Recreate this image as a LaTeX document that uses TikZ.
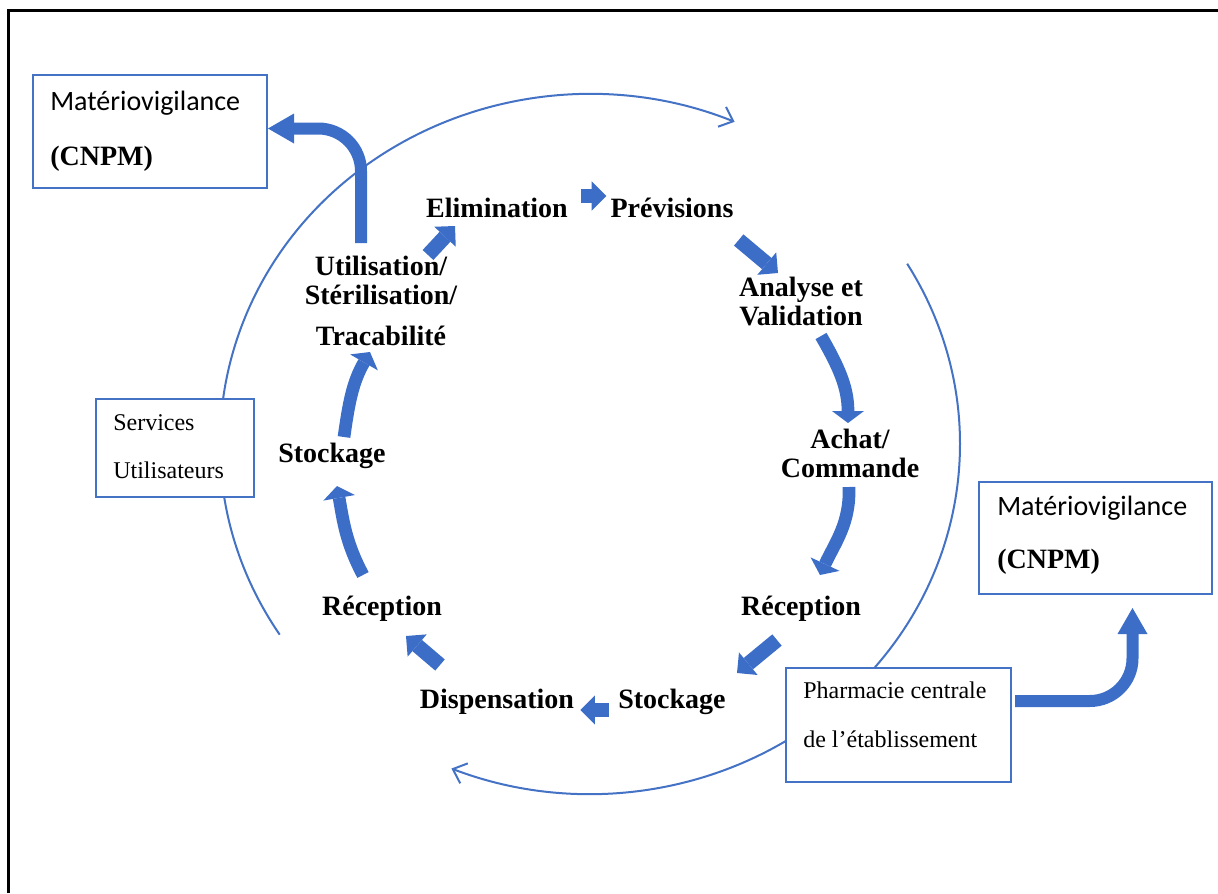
\documentclass[tikz,border=0pt]{standalone}
\usepackage{fontspec}
\setmainfont{Liberation Serif}
\newfontfamily\calibri{Carlito}
\usepackage{tikz}
\usetikzlibrary{arrows.meta}
\definecolor{boxblue}{RGB}{68,114,196}
\definecolor{arrowblue}{RGB}{60,110,200}

\begin{document}
\begin{tikzpicture}
[
    x = 0.75pt, y = 0.75pt,
    stage/.style = {font=\fontsize{21}{21.5}\selectfont\bfseries, align=center, inner sep=0pt, anchor=base},
    infobox/.style = {draw=boxblue, line width=1.5pt, fill=white, inner sep=0pt, outer sep=0pt, anchor=north west},
    boxtext/.style = {font=\fontsize{18}{18}\selectfont, inner sep=0pt, anchor=base west},
    vigitext/.style = {font=\calibri\fontsize{21}{21}\selectfont, inner sep=0pt, anchor=base west},
    cnpmtext/.style = {font=\fontsize{21}{21}\selectfont\bfseries, inner sep=0pt, anchor=base west},
    cyclearc/.style = {draw=boxblue, line width=1.5pt},
    flow/.style = {draw=arrowblue, line width=11pt, -{Triangle[width=22pt, length=11pt, line width=0pt]}},
    curvedflow/.style = {draw=arrowblue, line width=9.5pt, -{Triangle[width=24pt, length=9pt, line width=0pt]}},
    bigflow/.style = {draw=arrowblue, line width=9pt, rounded corners=32pt, -{Triangle[width=22.5pt, length=19.5pt, line width=0pt]}},
]
    \useasboundingbox (0,0) rectangle (1218,-893);
    \draw[line width=2.25pt] (8.5,-893) |- (1218,-10.5);

    \draw[cyclearc, -{Straight Barb[length=9pt, width=16pt]}] (590,-444) ++(213:370 and 350)
        arc[start angle=213, end angle=67, x radius=370, y radius=350];
    \draw[cyclearc] (590,-444) ++(31:370 and 350)
        arc[start angle=31, end angle=-42, x radius=370, y radius=350];
    \draw[cyclearc, -{Straight Barb[length=9pt, width=16pt]}] (590,-444) ++(-55:370 and 350)
        arc[start angle=-55, end angle=-112, x radius=370, y radius=350];

    \node[infobox, minimum width=175.5pt, minimum height=84.75pt] (vigil1) at (33,-75) {};
    \node[infobox, minimum width=174.75pt, minimum height=84pt] (vigil2) at (979,-482) {};
    \node[infobox, minimum width=118.5pt, minimum height=73.5pt] (services) at (96,-399) {};
    \node[infobox, minimum width=168.75pt, minimum height=85.5pt] (pharma) at (786,-668) {};

    \node[vigitext] (vigil1a) at ([shift={(17,-35)}]vigil1.north west) {Matériovigilance};
    \node[cnpmtext] (vigil1b) at ([shift={(17,-90)}]vigil1.north west) {(CNPM)};
    \node[vigitext] (vigil2a) at ([shift={(18,-33)}]vigil2.north west) {Matériovigilance};
    \node[cnpmtext] (vigil2b) at ([shift={(18,-86)}]vigil2.north west) {(CNPM)};
    \node[boxtext] (services1) at ([shift={(17,-31)}]services.north west) {Services};
    \node[boxtext] (services2) at ([shift={(17,-79)}]services.north west) {Utilisateurs};
    \node[boxtext] (pharma1) at ([shift={(17,-30)}]pharma.north west) {Pharmacie centrale};
    \node[boxtext] (pharma2) at ([shift={(17,-79)}]pharma.north west) {de l’établissement};

    \node[stage] (elim) at (497,-217) {Elimination};
    \node[stage] (prev) at (672,-217) {Prévisions};
    \node[stage] (anval) at (801,-325) {Analyse et\\Validation};
    \node[stage] (achat) at (850,-477) {Achat/\\Commande};
    \node[stage] (recR) at (801,-615) {Réception};
    \node[stage] (stockR) at (672,-708) {Stockage};
    \node[stage] (disp) at (497,-708) {Dispensation};
    \node[stage] (recL) at (382,-615) {Réception};
    \node[stage] (stockL) at (332,-462) {Stockage};
    \node[stage] (util) at (381,-345) {Utilisation/\\Stérilisation/\\[9pt]Tracabilité};

    \draw[flow] ([shift={(13,21)}]elim.base east) -- ([shift={(-4,21)}]prev.base west);
    \draw[flow] ([shift={(5,-23)}]prev.base east) -- ([shift={(-23,52)}]anval.base);
    \draw[curvedflow] ([shift={(20,-11)}]anval.base) to[out=-60, in=90] ([shift={(-2,54)}]achat.base);
    \draw[curvedflow] ([shift={(-1,-10)}]achat.base) to[out=-88, in=65] ([shift={(19,40)}]recR.base);
    \draw[flow] ([shift={(-24,-25)}]recR.base) -- ([shift={(65,35)}]stockR.base);
    \draw[flow] ([shift={(-9,-2)}]stockR.base west) -- ([shift={(6,-2)}]disp.base east);
    \draw[flow] ([shift={(-57,43)}]disp.base) -- ([shift={(24,-21)}]recL.base);
    \draw[curvedflow] ([shift={(-19,40)}]recL.base) to[out=118, in=-80] ([shift={(5,-24)}]stockL.base);
    \draw[curvedflow] ([shift={(12,25)}]stockL.base) to[out=82, in=-120] ([shift={(-11,-7)}]util.base);
    \draw[flow] ([shift={(47,90)}]util.base) -- ([shift={(-42,-9)}]elim.base);

    \draw[bigflow] ([shift={(-20,102)}]util.base) |- ([shift={(1,3)}]vigil1.east);
    \draw[bigflow] ([shift={(4,24)}]pharma.east) -| ([shift={(37,-14)}]vigil2.south);
\end{tikzpicture}
\end{document}
